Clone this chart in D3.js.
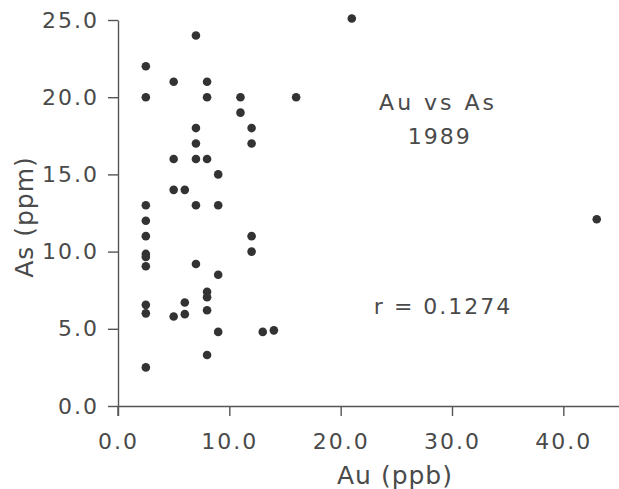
<!DOCTYPE html>
<meta charset="utf-8">
<style>
body { margin: 0; background: #fff; }
svg text { font-family: "DejaVu Sans", sans-serif; }
.axis .domain, .axis line { stroke: #555; stroke-width: 1.4; }
.axis text { fill: #4a4a4a; font-size: 22px; letter-spacing: 2px; }
.lbl { fill: #4a4a4a; font-size: 25px; letter-spacing: 1px; }
.note { fill: #4a4a4a; font-size: 22px; }
</style>
<body>
<script src="https://d3js.org/d3.v7.min.js"></script>
<script>
// Au (ppb) vs As (ppm), 1989 samples
var au = [2.5, 2.5, 5, 7, 8, 8, 11, 11, 16, 7, 12, 7, 12, 5, 7, 8, 9, 5, 6, 2.5, 7, 9,
          2.5, 2.5, 12, 2.5, 2.5, 2.5, 12, 7, 9, 2.5, 2.5, 5, 6, 6, 8, 8, 8, 9, 8, 2.5,
          13, 14, 21, 43];
var as = [22, 20, 21, 24, 21, 20, 20, 19, 20, 18, 18, 17, 17, 16, 16, 16, 15, 14, 14, 13, 13, 13,
          12, 11, 11, 9.85, 9.65, 9.05, 10, 9.2, 8.5, 6.55, 6.0, 5.8, 6.7, 5.95, 7.4, 7.05, 6.2, 4.8, 3.3, 2.5,
          4.8, 4.9, 25.1, 12.1];
var xTicks = [0, 10, 20, 30, 40];
var yTicks = [0, 5, 10, 15, 20, 25];

var width = 619, height = 489;
var margin = {top: 20, right: 0, bottom: 83, left: 118};

var svg = d3.select("body").append("svg")
    .attr("width", width)
    .attr("height", height);

var x = d3.scaleLinear()
    .domain([0, 45])
    .range([margin.left, width - margin.right]);

var y = d3.scaleLinear()
    .domain([0, 25])
    .range([height - margin.bottom, margin.top]);

var fmt = d3.format(".1f");

var xAxis = svg.append("g")
    .attr("class", "x axis")
    .attr("transform", "translate(0," + y(0) + ")")
    .call(d3.axisBottom(x).tickValues(xTicks).tickFormat(fmt)
      .tickSize(10).tickSizeOuter(0).tickPadding(17));

var yAxis = svg.append("g")
    .attr("class", "y axis")
    .attr("transform", "translate(" + x(0) + ",0)")
    .call(d3.axisLeft(y).tickValues(yTicks).tickFormat(fmt)
      .tickSize(10).tickSizeOuter(0).tickPadding(9));

// the y axis line runs down to the foot of the x ticks
yAxis.append("line")
    .attr("x1", 0).attr("x2", 0)
    .attr("y1", y(0)).attr("y2", y(0) + 10);

svg.append("g")
  .selectAll("circle")
    .data(au.map(function(d, i) { return {au: d, as: as[i]}; }))
  .enter().append("circle")
    .attr("cx", function(d) { return x(d.au); })
    .attr("cy", function(d) { return y(d.as); })
    .attr("r", 4.3)
    .style("fill", "#333");

// axis titles
svg.append("text")
    .attr("class", "lbl")
    .attr("x", 395)
    .attr("y", 484)
    .style("text-anchor", "middle")
    .text("Au (ppb)");

svg.append("text")
    .attr("class", "lbl")
    .attr("transform", "translate(33,217) rotate(-90)")
    .style("text-anchor", "middle")
    .text("As (ppm)");

// annotations
svg.append("text")
    .attr("class", "note")
    .attr("x", x(28.75))
    .attr("y", y(19.16))
    .style("text-anchor", "middle")
    .style("letter-spacing", "3px")
    .text("Au vs As");

svg.append("text")
    .attr("class", "note")
    .attr("x", x(28.9))
    .attr("y", y(17.0))
    .style("text-anchor", "middle")
    .style("letter-spacing", "2px")
    .text("1989");

svg.append("text")
    .attr("class", "note")
    .attr("x", x(29.2))
    .attr("y", y(5.97))
    .style("text-anchor", "middle")
    .style("letter-spacing", "2px")
    .text("r = 0.1274");
</script>
